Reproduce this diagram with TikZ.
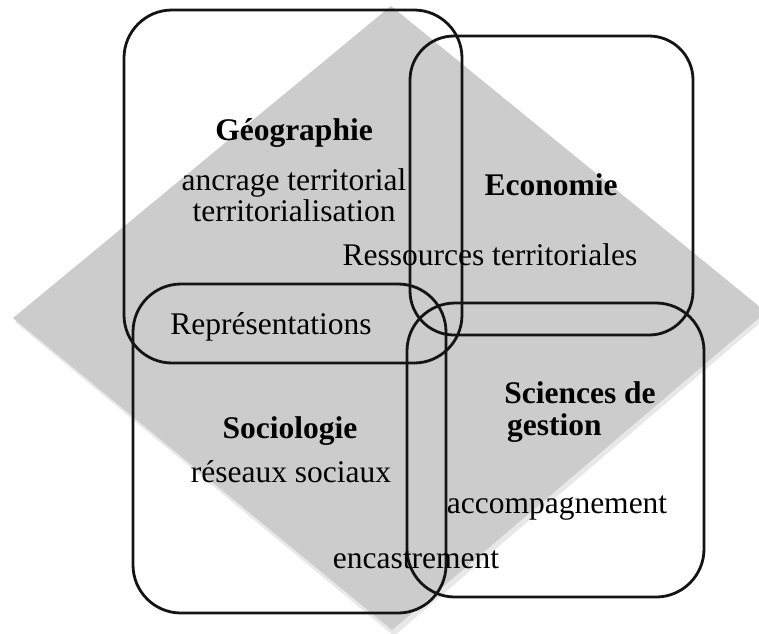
\documentclass[tikz,border=0pt]{standalone}
\usepackage{fontspec}
\setmainfont{Liberation Serif}
\definecolor{diam}{RGB}{204,204,204}
\definecolor{diamshadow}{RGB}{232,232,232}
\definecolor{edge}{RGB}{20,20,20}
\begin{document}
\begin{tikzpicture}[x=1pt,y=-1pt,
  box/.style={draw=edge, line width=2.8pt, rounded corners=48pt},
  lbl/.style={anchor=base, inner sep=0pt, font=\fontsize{31.5}{36}\selectfont},
  ttl/.style={anchor=base, inner sep=0pt, font=\fontsize{31.5}{36}\selectfont\bfseries}]
\useasboundingbox (0,0) rectangle (759,633);
\begin{scope}
  \clip (0,0) rectangle (759,633);
  % soft shadow of the diamond
  \fill[diamshadow] (393,10) -- (768,316) -- (394,636) -- (15,322) -- cycle;
  % diamond
  \fill[diam] (391,6) -- (766,312) -- (392,630) -- (13,318) -- cycle;
\end{scope}
% the four overlapping rounded boxes
\draw[box] (124,10) rectangle (462,363);   % Geographie
\draw[box, rounded corners=44pt] (410,36) rectangle (693,335);   % Economie
\draw[box] (133,284) rectangle (446,613);  % Sociologie
\draw[box] (407,303) rectangle (704,597);  % Sciences de gestion
% texts
\node[ttl] (geo)  at (294,140) {Géographie};
\node[lbl] (anc)  at (294,190) {ancrage territorial};
\node[lbl] (terr) at (294,221) {territorialisation};
\node[ttl] (eco)  at (551,195) {Economie};
\node[lbl] (res)  at (490,265) {Ressources territoriales};
\node[lbl] (rep)  at (271,334) {Représentations};
\node[ttl] (soc)  at (290,438) {Sociologie};
\node[lbl] (rso)  at (291,482) {réseaux sociaux};
\node[ttl] (sci)  at (580,403) {Sciences de};
\node[ttl, anchor=base west] (ges) at (507,435) {gestion};
\node[lbl] (acc)  at (557,513) {accompagnement};
\node[lbl] (enc)  at (416,568) {encastrement};
\end{tikzpicture}
\end{document}
